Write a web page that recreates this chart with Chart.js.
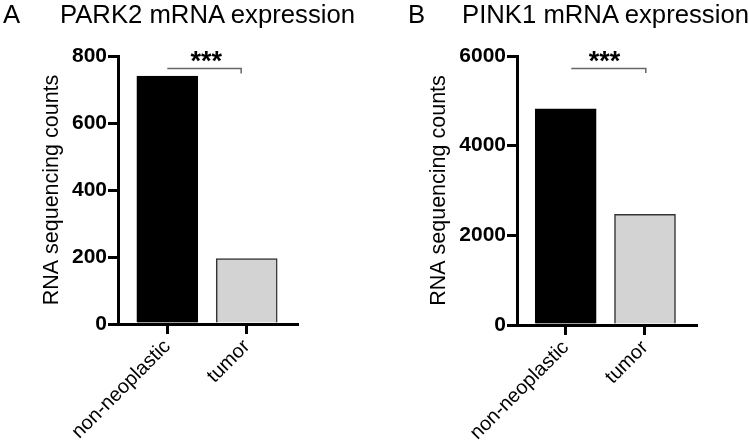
<!DOCTYPE html>
<html><head><meta charset="utf-8">
<script src="https://cdn.jsdelivr.net/npm/chart.js@4.4.1/dist/chart.umd.min.js"></script>
<style>
html,body{margin:0;padding:0;background:#fff;}
#wrap{position:relative;width:749px;height:448px;overflow:hidden;font-family:"Liberation Sans",Arial,sans-serif;}
.panel{position:absolute;top:0;height:448px;}
.lbl{position:absolute;font-size:25.7px;line-height:26px;color:#000;white-space:nowrap;}
</style></head><body>
<div id="wrap">
 <div class="panel" style="left:0;width:375px"><canvas id="cA" width="375" height="448"></canvas></div>
 <div class="panel" style="left:375px;width:374px"><canvas id="cB" width="374" height="448"></canvas></div>
 <div class="lbl" style="left:3px;top:1px">A</div>
 <div class="lbl" style="left:60px;top:1px">PARK2 mRNA expression</div>
 <div class="lbl" style="left:408px;top:1px">B</div>
 <div class="lbl" style="left:462px;top:1px">PINK1 mRNA expression</div>
</div>
<script>
const categories = ['non-neoplastic', 'tumor'];
const park2Values = [740, 195];
const pink1Values = [4820, 2470];
const park2Ticks = [0, 200, 400, 600, 800];
const pink1Ticks = [0, 2000, 4000, 6000];
const barColors = ['#000000', '#d3d3d3'];
const barBorders = ['#000000', '#333333'];
const yTitle = 'RNA sequencing counts';
const sigText = '***';

const FONT = '"Liberation Sans", Arial, sans-serif';

const bracketPlugin = {
  id: 'sigBracket',
  afterDatasetsDraw(chart, args, o) {
    const {ctx, scales: {x, y}} = chart;
    const x1 = x.getPixelForValue(o.from), x2 = x.getPixelForValue(o.to);
    const yy = y.getPixelForValue(o.level), yh = y.getPixelForValue(o.hookTo);
    ctx.save();
    ctx.strokeStyle = '#666666';
    ctx.lineWidth = 1.5;
    ctx.beginPath();
    ctx.moveTo(x1, yy); ctx.lineTo(x2, yy); ctx.lineTo(x2, yh);
    ctx.stroke();
    ctx.font = 'bold 27px ' + FONT;
    ctx.fillStyle = '#000';
    ctx.textAlign = 'center';
    ctx.textBaseline = 'alphabetic';
    ctx.fillText(o.text, x.getPixelForValue(o.textAt), yy + 1.5);
    ctx.restore();
  }
};

function makeChart(id, values, yTicks, yMax, L) {
  return new Chart(document.getElementById(id), {
    type: 'bar',
    data: {
      datasets: [{
        data: values.map((v, i) => ({x: i, y: v})),
        backgroundColor: barColors,
        borderColor: barBorders,
        borderWidth: 1.5,
        borderSkipped: 'start',
        barThickness: 61
      }]
    },
    options: {
      responsive: false,
      animation: false,
      layout: {padding: {top: 56, right: L.padRight, left: 0, bottom: 0}},
      plugins: {
        legend: {display: false},
        tooltip: {enabled: false},
        sigBracket: L.bracket
      },
      scales: {
        x: {
          type: 'linear',
          min: L.xMin, max: L.xMax,
          offset: false,
          afterBuildTicks: s => { s.ticks = categories.map((c, i) => ({value: i})); },
          afterFit: s => { s.height = L.xHeight; },
          ticks: {
            callback: v => categories[v],
            color: '#000',
            font: {family: FONT, size: 20},
            minRotation: 45, maxRotation: 45,
            autoSkip: false,
            padding: 1
          },
          grid: {offset: false, drawOnChartArea: false, drawTicks: true, tickLength: 10, lineWidth: 3, color: '#000'},
          border: {display: true, color: '#000', width: 3}
        },
        y: {
          type: 'linear',
          min: 0, max: yMax,
          afterBuildTicks: s => { s.ticks = yTicks.map(v => ({value: v})); },
          afterFit: s => { s.width = L.yWidth; },
          ticks: {color: '#000', font: {family: FONT, size: 21, weight: 'bold'}, padding: 1, callback: v => String(v)},
          grid: {drawOnChartArea: false, drawTicks: true, tickLength: 10, lineWidth: 3, color: '#000'},
          border: {display: true, color: '#000', width: 3},
          title: {display: true, text: yTitle, color: '#000', font: {family: FONT, size: 21.5}, padding: {top: L.titlePad, bottom: 0}}
        }
      }
    },
    plugins: [bracketPlugin]
  });
}

makeChart('cA', park2Values, park2Ticks, 800, {
  padRight: 78, yWidth: 118, xHeight: 124, xMin: -0.621, xMax: 1.633, titlePad: 39.5,
  bracket: {from: 0, to: 0.93, level: 763, hookTo: 748, textAt: 0.49, text: sigText}
});
makeChart('cB', pink1Values, pink1Ticks, 6000, {
  padRight: 52.3, yWidth: 142, xHeight: 123, xMin: -0.614, xMax: 1.652, titlePad: 51,
  bracket: {from: 0.07, to: 1.01, level: 5723, hookTo: 5621, textAt: 0.49, text: sigText}
});
</script>
</body></html>
